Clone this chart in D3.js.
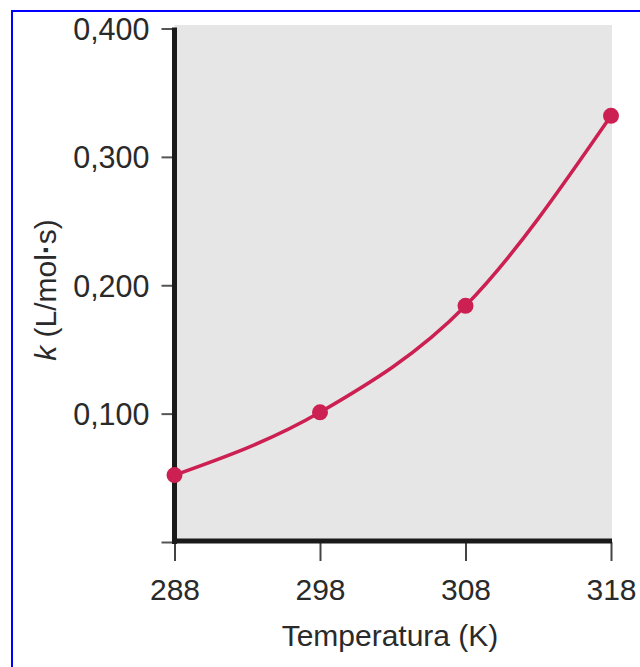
<!DOCTYPE html>
<html>
<head>
<meta charset="utf-8">
<script src="https://cdn.jsdelivr.net/npm/d3@7"></script>
<style>
  html, body { margin: 0; padding: 0; background: #fff; }
  svg { display: block; }
  text { font-family: "Liberation Sans", Arial, Helvetica, sans-serif; fill: #2a2a2a; }
</style>
</head>
<body>
<svg id="chart" width="640" height="667"></svg>
<script>
// ---- data ----
const temperatures = [288, 298, 308, 318];
const kValues = [0.0521, 0.101, 0.184, 0.332];
const xTickValues = [288, 298, 308, 318];
const xTickLabels = ["288", "298", "308", "318"];
const yTickValues = [0, 0.1, 0.2, 0.3, 0.4];
const yTickLabels = ["", "0,100", "0,200", "0,300", "0,400"];
const xTitle = "Temperatura (K)";

const svg = d3.select("#chart");

// frame
svg.append("rect")
  .attr("x", 12).attr("y", 11)
  .attr("width", 800).attr("height", 800)
  .attr("fill", "none").attr("stroke", "#0000ff").attr("stroke-width", 2);

const x = d3.scaleLinear().domain([288, 318]).range([174.5, 611]);
const y = d3.scaleLinear().domain([0, 0.4]).range([542, 28.5]);

// plot background
svg.append("rect")
  .attr("x", x(288)).attr("y", 25)
  .attr("width", 612 - x(288)).attr("height", 541 - 25)
  .attr("fill", "#e6e6e6");

// y axis
const yAxis = d3.axisLeft(y)
  .tickValues(yTickValues)
  .tickFormat((d, i) => yTickLabels[i])
  .tickSize(13)
  .tickPadding(12);
const gy = svg.append("g").attr("transform", `translate(${x(288)},0)`).call(yAxis);
gy.select(".domain").remove();
gy.selectAll(".tick line").attr("stroke", "#555").attr("stroke-width", 2);
gy.selectAll(".tick text").attr("font-size", 30.5).attr("dy", "0.36em").style("fill", "#2a2a2a");

// x axis
const xAxis = d3.axisBottom(x)
  .tickValues(xTickValues)
  .tickFormat((d, i) => xTickLabels[i])
  .tickSize(19)
  .tickPadding(18);
const gx = svg.append("g").attr("transform", `translate(0,${y(0)})`).call(xAxis);
gx.select(".domain").remove();
gx.selectAll(".tick line").attr("stroke", "#444").attr("stroke-width", 2);
gx.selectAll(".tick text").attr("font-size", 30).style("fill", "#2a2a2a");

// thick axis lines
svg.append("line")
  .attr("x1", x(288)).attr("x2", x(288))
  .attr("y1", y(0.4) - 1).attr("y2", y(0) + 2)
  .attr("stroke", "#1a1a1a").attr("stroke-width", 5);
svg.append("line")
  .attr("x1", x(288) - 2.5).attr("x2", 612)
  .attr("y1", y(0) - 1).attr("y2", y(0) - 1)
  .attr("stroke", "#1a1a1a").attr("stroke-width", 5);

// curve
const data = temperatures.map((t, i) => ({ t, k: kValues[i] }));
const line = d3.line().x(d => x(d.t)).y(d => y(d.k)).curve(d3.curveMonotoneX);
svg.append("path")
  .datum(data)
  .attr("d", line)
  .attr("fill", "none")
  .attr("stroke", "#cc1f52")
  .attr("stroke-width", 3.5);

svg.selectAll("circle.pt")
  .data(data)
  .enter().append("circle")
  .attr("class", "pt")
  .attr("cx", d => x(d.t))
  .attr("cy", d => y(d.k))
  .attr("r", 8)
  .attr("fill", "#cc1f52");

// titles
svg.append("text")
  .attr("x", 390).attr("y", 646)
  .attr("text-anchor", "middle")
  .attr("font-size", 30)
  .text(xTitle);

const yTitle = svg.append("text")
  .attr("transform", "translate(56,290) rotate(-90)")
  .attr("text-anchor", "middle")
  .attr("font-size", 30);
yTitle.append("tspan").attr("font-style", "italic").text("k");
yTitle.append("tspan").text(" (L/mol");
yTitle.append("tspan").attr("font-weight", "bold").text("\u00B7");
yTitle.append("tspan").text("s)");
</script>
</body>
</html>
